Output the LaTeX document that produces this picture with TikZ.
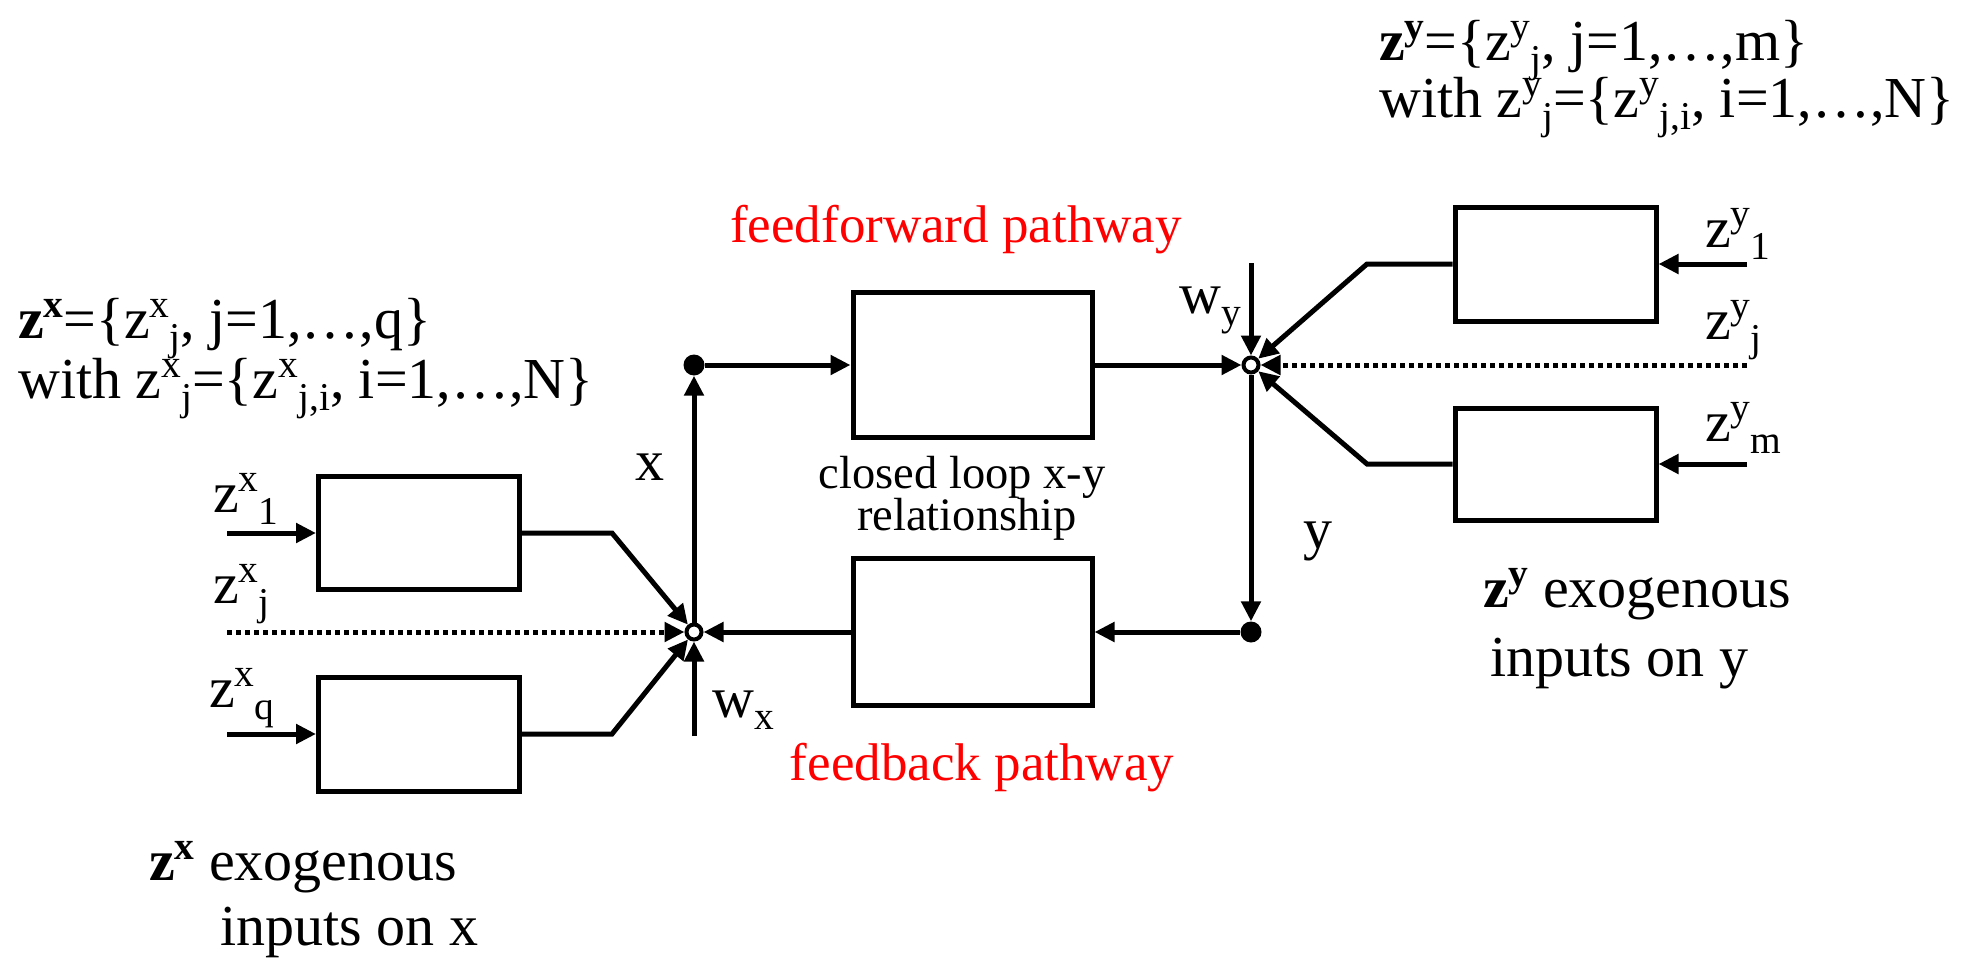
\documentclass[tikz,border=0pt]{standalone}
\usepackage{fontspec}
\setmainfont{Liberation Serif}
\usetikzlibrary{arrows.meta}
% raised / lowered indices set one after the other
\newcommand{\up}[1]{\raisebox{0.36em}{\scalebox{0.68}{#1}}}
\newcommand{\dn}[1]{\raisebox{-0.22em}{\scalebox{0.68}{#1}}}
\tikzset{
  blk/.style={draw, line width=5pt, minimum width=201pt, inner sep=0pt},
  arr/.style={line width=5pt, -{Triangle[length=20pt,width=19pt]}},
  dotline/.style={arr, dash pattern=on 5pt off 4pt},
  junc/.style={circle, draw, line width=4pt, fill=white, minimum size=15pt, inner sep=0pt},
  tap/.style={circle, fill=black, minimum size=21pt, inner sep=0pt},
  big/.style={font=\fontsize{58}{68}\selectfont, inner sep=0pt},
  mid/.style={font=\fontsize{53}{62}\selectfont, inner sep=0pt},
  small/.style={font=\fontsize{46.5}{40}\selectfont, inner sep=0pt},
}
\begin{document}
\begin{tikzpicture}[x=1pt,y=-1pt]
\useasboundingbox (0,0) rectangle (1975,958);

% blocks
\node[blk, minimum height=113pt] (bx1) at (419,533) {};
\node[blk, minimum height=114pt] (bxq) at (419,734) {};
\node[blk, minimum width=239pt, minimum height=145pt] (ff) at (972.5,365) {};
\node[blk, minimum width=239pt, minimum height=147pt] (fb) at (972.5,632) {};
\node[blk, minimum height=114pt] (by1) at (1555.5,264) {};
\node[blk, minimum height=112pt] (bym) at (1555.5,464) {};

% summing junctions and branch points
\node[tap] (dx) at (694,365) {};
\node[tap] (dy) at (1251,632) {};
\node[junc] (jx) at (694,632) {};
\node[junc] (jy) at (1251,365) {};

% free ends and bends
\coordinate (in1) at (227,533);
\coordinate (inj) at (227,632);
\coordinate (inq) at (227,734);
\coordinate (kx1) at (612,533);
\coordinate (kxq) at (612,734);
\coordinate (wx) at (694,736);
\coordinate (wy) at (1251,263);
\coordinate (iny1) at (1747,264);
\coordinate (inyj) at (1747,365);
\coordinate (inym) at (1747,464);
\coordinate (ky1) at (1367,264);
\coordinate (kym) at (1367,464);

% x side
\draw[arr] (in1) -- (bx1.west);
\draw[arr] (inq) -- (bxq.west);
\draw[dotline] (inj) -- (jx);
\draw[arr] (bx1.east) -- (kx1) -- (jx);
\draw[arr] (bxq.east) -- (kxq) -- (jx);
\draw[arr] (wx) -- (jx);
\draw[arr] (jx) -- (dx);

% loop
\draw[arr] (dx) -- (ff.west);
\draw[arr] (ff.east) -- (jy);
\draw[arr] (jy) -- (dy);
\draw[arr] (dy) -- (fb.east);
\draw[arr] (fb.west) -- (jx);

% y side
\draw[arr] (iny1) -- (by1.east);
\draw[arr] (inym) -- (bym.east);
\draw[dotline] (inyj) -- (jy);
\draw[arr] (by1.west) -- (ky1) -- (jy);
\draw[arr] (bym.west) -- (kym) -- (jy);
\draw[arr] (wy) -- (jy);

% signal labels
\node[big, anchor=base west] (lx1) at (213,512) {z\up{x}\dn{1}};
\node[big, anchor=base west] (lxj) at (213,603) {z\up{x}\dn{j}};
\node[big, anchor=base west] (lxq) at (209,707) {z\up{x}\dn{q}};
\node[big, anchor=base west] (ly1) at (1705,247) {z\up{y}\dn{1}};
\node[big, anchor=base west] (lyj) at (1705,339) {z\up{y}\dn{j}};
\node[big, anchor=base west] (lym) at (1705,441) {z\up{y}\dn{m}};
\node[big, anchor=base west] (lx) at (635,480) {x};
\node[big, anchor=base west] (ly) at (1303,548) {y};
\node[big, anchor=base west] (lwx) at (712,717) {w\dn{x}};
\node[big, anchor=base west] (lwy) at (1179,313) {w\dn{y}};

% pathway names
\node[mid, text=red, anchor=base] (tff) at (956,242) {feedforward pathway};
\node[mid, text=red, anchor=base] (tfb) at (982,780) {feedback pathway};
\node[small, anchor=base] (tcl1) at (962,488) {closed loop x-y};
\node[small, anchor=base] (tcl2) at (967,530) {relationship};

% set definitions
\node[big, anchor=base west] (sy1) at (1379,60)
  {\textbf{z\up{y}}=\{z\up{y}\dn{j}, j=1,…,m\}};
\node[big, anchor=base west] (sy2) at (1379,117)
  {with z\up{y}\dn{j}=\{z\up{y}\dn{j,i}, i=1,…,N\}};
\node[big, anchor=base west] (sx1) at (18,338)
  {\textbf{z\up{x}}=\{z\up{x}\dn{j}, j=1,…,q\}};
\node[big, anchor=base west] (sx2) at (18,398)
  {with z\up{x}\dn{j}=\{z\up{x}\dn{j,i}, i=1,…,N\}};

% exogenous input captions
\node[big, anchor=base west] (ey1) at (1483,607) {\textbf{z\up{y}} exogenous};
\node[big, anchor=base west] (ey2) at (1490,676) {inputs on y};
\node[big, anchor=base west] (ex1) at (149,880) {\textbf{z\up{x}} exogenous};
\node[big, anchor=base west] (ex2) at (220,945) {inputs on x};
\end{tikzpicture}
\end{document}
